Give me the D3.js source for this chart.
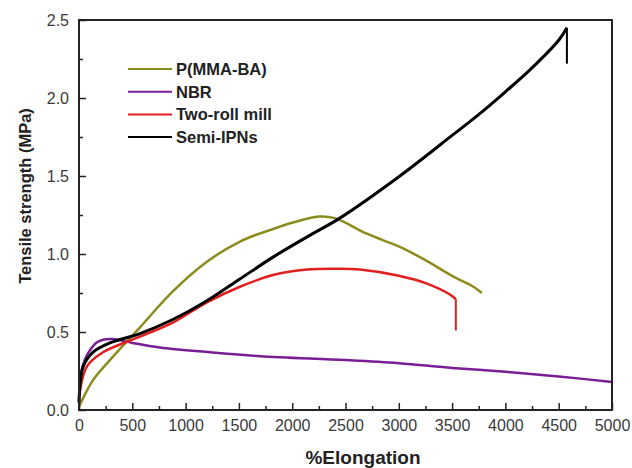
<!DOCTYPE html>
<html>
<head>
<meta charset="utf-8">
<script src="https://cdn.jsdelivr.net/npm/d3@7"></script>
<style>
  body { margin: 0; background: #fff; }
  svg { font-family: "Liberation Sans", Arial, sans-serif; }
</style>
</head>
<body>
<div id="chart"></div>
<script>
// Series data (elongation %, tensile strength MPa)
const pmmaBa = [[0,0.02],[130,0.19],[290,0.32],[572,0.53],[880,0.76],[1200,0.95],[1510,1.08],[1820,1.16],[2000,1.20],[2250,1.24],[2400,1.23],[2700,1.13],[3010,1.045],[3225,0.97],[3500,0.86],[3700,0.79],[3779,0.75]];
const nbr = [[0,0.05],[19,0.24],[60,0.33],[100,0.38],[160,0.43],[225,0.45],[320,0.455],[500,0.43],[760,0.40],[1230,0.37],[1700,0.345],[2500,0.32],[3000,0.30],[3500,0.27],[4000,0.245],[4500,0.215],[5000,0.18]];
const twoRoll = [[0,0.08],[75,0.28],[225,0.37],[572,0.47],[880,0.56],[1200,0.69],[1510,0.79],[1820,0.865],[2140,0.90],[2430,0.905],[2635,0.90],[3000,0.86],[3263,0.81],[3480,0.74],[3535,0.71],[3535,0.51]];
const semiIpn = [[0,0.05],[40,0.28],[130,0.37],[290,0.43],[572,0.49],[880,0.58],[1200,0.70],[1510,0.84],[1820,0.98],[2140,1.11],[2447,1.23],[3010,1.50],[3500,1.76],[3760,1.90],[4000,2.04],[4230,2.18],[4500,2.37],[4577,2.45],[4577,2.22]];

const seriesNames = ["P(MMA-BA)", "NBR", "Two-roll mill", "Semi-IPNs"];
const seriesColors = ["#8c8c1e", "#7a1e96", "#e0201e", "#000000"];
const seriesData = [pmmaBa, nbr, twoRoll, semiIpn];

const xTicks = d3.range(0, 5001, 500);
const yTicks = [0, 0.5, 1.0, 1.5, 2.0, 2.5];

const width = 632, height = 468;
const margin = { top: 20, right: 20, bottom: 58, left: 79 };

const svg = d3.select("#chart").append("svg")
  .attr("width", width).attr("height", height);

const x = d3.scaleLinear().domain([0, 5000]).range([margin.left, width - margin.right]);
const y = d3.scaleLinear().domain([0, 2.5]).range([height - margin.bottom, margin.top]);

// Lines
const line = d3.line()
  .x(d => x(d[0]))
  .y(d => y(d[1]))
  .curve(d3.curveCatmullRom.alpha(0.5));

const lineVert = d3.line()
  .x(d => x(d[0]))
  .y(d => y(d[1]));

seriesData.forEach((data, i) => {
  const last = data[data.length - 1], prev = data[data.length - 2];
  const hasDrop = last[0] === prev[0];
  const main = hasDrop ? data.slice(0, -1) : data;
  svg.append("path")
    .datum(main)
    .attr("fill", "none")
    .attr("stroke", seriesColors[i])
    .attr("stroke-width", i === 3 ? 3 : 2.5)
    .attr("stroke-linejoin", "round")
    .attr("d", line);
  if (hasDrop) {
    svg.append("path")
      .datum([prev, last])
      .attr("fill", "none")
      .attr("stroke", seriesColors[i])
      .attr("stroke-width", 2)
      .attr("d", lineVert);
  }
});

// Frame
svg.append("rect")
  .attr("x", x(0)).attr("y", y(2.5))
  .attr("width", x(5000) - x(0)).attr("height", y(0) - y(2.5))
  .attr("fill", "none").attr("stroke", "#222").attr("stroke-width", 2);

// Axes with inward ticks
svg.append("g")
  .attr("transform", `translate(0,${y(0)})`)
  .call(d3.axisBottom(x).tickValues(xTicks).tickSize(-7).tickPadding(10).tickFormat(d3.format("d")));
svg.append("g")
  .attr("transform", `translate(0,${y(0)})`)
  .call(d3.axisBottom(x).tickValues(d3.range(250, 5000, 500)).tickSize(-4).tickFormat(""));

svg.append("g")
  .attr("transform", `translate(${x(0)},0)`)
  .call(d3.axisLeft(y).tickValues(yTicks).tickSize(-7).tickPadding(10).tickFormat(d3.format(".1f")));
svg.append("g")
  .attr("transform", `translate(${x(0)},0)`)
  .call(d3.axisLeft(y).tickValues([0.25, 0.75, 1.25, 1.75, 2.25]).tickSize(-4).tickFormat(""));

svg.selectAll(".domain").remove();
svg.selectAll(".tick line").attr("stroke", "#222").attr("stroke-width", 1.5);
svg.selectAll(".tick text").attr("font-size", 16).attr("fill", "#3a3a3a");

// Axis titles
svg.append("text")
  .attr("x", 363).attr("y", 464)
  .attr("text-anchor", "middle")
  .attr("font-size", 19).attr("font-weight", "bold").attr("fill", "#222")
  .text("%Elongation");

svg.append("text")
  .attr("transform", "translate(31,196) rotate(-90)")
  .attr("text-anchor", "middle")
  .attr("font-size", 16.5).attr("font-weight", "bold").attr("fill", "#222")
  .text("Tensile strength (MPa)");

// Legend
const legend = svg.append("g").attr("transform", "translate(128,69)");
seriesNames.forEach((name, i) => {
  const g = legend.append("g").attr("transform", `translate(0,${i * 22.7})`);
  g.append("line")
    .attr("x1", 0).attr("x2", 44).attr("y1", 0).attr("y2", 0)
    .attr("stroke", seriesColors[i]).attr("stroke-width", 2);
  g.append("text")
    .attr("x", 48).attr("y", 6)
    .attr("font-size", 16.5).attr("font-weight", "bold").attr("fill", "#222")
    .text(name);
});
</script>
</body>
</html>
